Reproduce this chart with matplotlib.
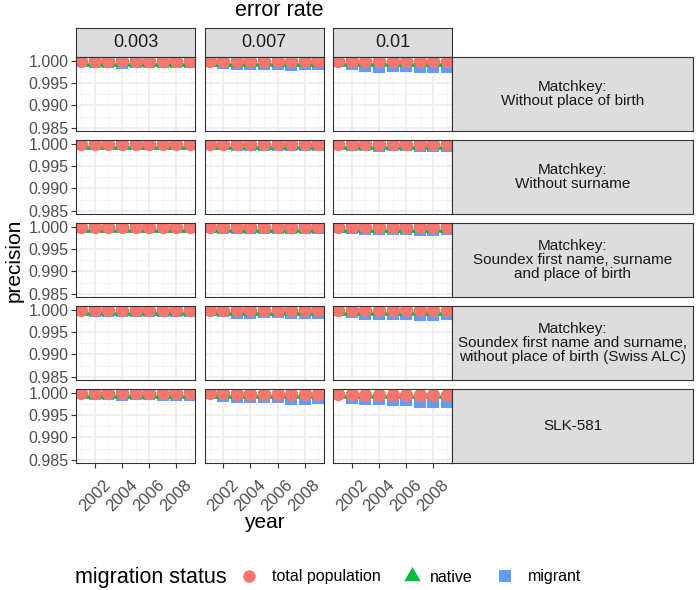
import matplotlib
matplotlib.use('Agg')
import matplotlib.pyplot as plt
from matplotlib.path import Path

plt.rcParams['font.family'] = ['Liberation Sans', 'DejaVu Sans']

years = [2001, 2002, 2003, 2004, 2005, 2006, 2007, 2008, 2009]
error_rates = ['0.003', '0.007', '0.01']
matchkeys = [
    'Matchkey:\nWithout place of birth',
    'Matchkey:\nWithout surname',
    'Matchkey:\nSoundex first name, surname\nand place of birth',
    'Matchkey:\nSoundex first name and surname,\nwithout place of birth (Swiss ALC)',
    'SLK-581',
]
series_names = ['total population', 'native', 'migrant']

# precision per error rate (rows of each list: 0.003, 0.007, 0.01)
total_no_pob = [
    [1.0, 0.99998, 0.99998, 0.99997, 0.99997, 0.99998, 0.99998, 0.99998, 0.99998],
    [1.0, 0.99997, 0.99995, 0.99995, 0.99995, 0.99995, 0.99994, 0.99994, 0.99994],
    [0.99999, 0.99995, 0.99992, 0.99991, 0.99992, 0.99992, 0.9999, 0.9999, 0.9999],
]
native_no_pob = [
    [1.0, 1.0, 1.0, 0.99999, 0.99999, 1.0, 1.0, 1.0, 1.0],
    [1.0, 0.99999, 0.99998, 0.99998, 0.99998, 0.99998, 0.99997, 0.99997, 0.99997],
    [1.0, 0.99998, 0.99996, 0.99995, 0.99996, 0.99996, 0.99994, 0.99994, 0.99994],
]
migrant_no_pob = [
    [0.99998, 0.99978, 0.99971, 0.99955, 0.99962, 0.99978, 0.99971, 0.99978, 0.99978],
    [0.99996, 0.99955, 0.99917, 0.99917, 0.99933, 0.99933, 0.99904, 0.99917, 0.99917],
    [0.99993, 0.99933, 0.99881, 0.99866, 0.99881, 0.99881, 0.99859, 0.99859, 0.99866],
]

total_no_surname = [
    [1.0, 0.99999, 0.99999, 0.99999, 0.99999, 0.99999, 0.99999, 0.99999, 0.99999],
    [1.0, 0.99999, 0.99998, 0.99998, 0.99998, 0.99998, 0.99998, 0.99998, 0.99998],
    [1.0, 0.99998, 0.99996, 0.99996, 0.99996, 0.99996, 0.99995, 0.99995, 0.99995],
]
native_no_surname = [
    [1.0, 1.0, 1.0, 1.0, 1.0, 1.0, 1.0, 1.0, 1.0],
    [1.0, 1.0, 0.99999, 0.99999, 0.99999, 0.99999, 0.99999, 0.99999, 0.99999],
    [1.0, 0.99999, 0.99998, 0.99998, 0.99998, 0.99998, 0.99998, 0.99998, 0.99998],
]
migrant_no_surname = [
    [0.99999, 0.99993, 0.99993, 0.99989, 0.99989, 0.99993, 0.99989, 0.99993, 0.99993],
    [0.99999, 0.99989, 0.99978, 0.99978, 0.99978, 0.99978, 0.99971, 0.99978, 0.99978],
    [0.99998, 0.99978, 0.99962, 0.99955, 0.99962, 0.99962, 0.99948, 0.99948, 0.99955],
]

total_soundex_pob = [
    [1.0, 0.99999, 0.99999, 0.99999, 0.99999, 0.99999, 0.99999, 0.99999, 0.99999],
    [1.0, 0.99998, 0.99997, 0.99997, 0.99997, 0.99997, 0.99997, 0.99997, 0.99997],
    [1.0, 0.99997, 0.99995, 0.99994, 0.99995, 0.99995, 0.99993, 0.99993, 0.99994],
]
native_soundex_pob = [
    [1.0, 1.0, 1.0, 1.0, 1.0, 1.0, 1.0, 1.0, 1.0],
    [1.0, 0.99999, 0.99999, 0.99999, 0.99999, 0.99999, 0.99999, 0.99999, 0.99999],
    [1.0, 0.99999, 0.99998, 0.99997, 0.99998, 0.99998, 0.99997, 0.99997, 0.99997],
]
migrant_soundex_pob = [
    [0.99999, 0.99993, 0.99989, 0.99989, 0.99989, 0.99993, 0.99989, 0.99993, 0.99993],
    [0.99999, 0.99978, 0.99971, 0.99971, 0.99971, 0.99971, 0.99962, 0.99966, 0.99966],
    [0.99998, 0.99971, 0.99948, 0.9994, 0.99948, 0.99948, 0.99933, 0.99933, 0.9994],
]

total_swiss_alc = [
    [1.0, 0.99998, 0.99998, 0.99997, 0.99998, 0.99998, 0.99998, 0.99998, 0.99998],
    [1.0, 0.99996, 0.99993, 0.99993, 0.99994, 0.99994, 0.99992, 0.99992, 0.99993],
    [0.99999, 0.99995, 0.9999, 0.9999, 0.9999, 0.9999, 0.99987, 0.99987, 0.99989],
]
native_swiss_alc = [
    [1.0, 1.0, 1.0, 0.99999, 1.0, 1.0, 1.0, 1.0, 1.0],
    [1.0, 0.99998, 0.99997, 0.99997, 0.99997, 0.99997, 0.99996, 0.99996, 0.99997],
    [1.0, 0.99998, 0.99995, 0.99995, 0.99995, 0.99995, 0.99993, 0.99993, 0.99994],
]
migrant_swiss_alc = [
    [0.99999, 0.99984, 0.99984, 0.99971, 0.99978, 0.99984, 0.99984, 0.99978, 0.99984],
    [0.99998, 0.99962, 0.99933, 0.99933, 0.9994, 0.9994, 0.99917, 0.99926, 0.99933],
    [0.99998, 0.99955, 0.9991, 0.9991, 0.9991, 0.9991, 0.99873, 0.99873, 0.99895],
]

total_slk = [
    [0.99998, 0.99995, 0.99994, 0.99993, 0.99993, 0.99993, 0.99992, 0.99992, 0.99992],
    [0.99996, 0.99988, 0.99982, 0.9998, 0.9998, 0.99978, 0.99973, 0.99972, 0.99972],
    [0.99978, 0.99968, 0.9996, 0.9996, 0.9995, 0.9995, 0.9994, 0.9994, 0.9994],
]
native_slk = [
    [1.0, 0.99999, 0.99999, 0.99998, 0.99998, 0.99998, 0.99998, 0.99998, 0.99998],
    [1.0, 0.99997, 0.99995, 0.99994, 0.99994, 0.99993, 0.99992, 0.99991, 0.99991],
    [1.0, 0.99998, 0.99995, 0.99995, 0.99993, 0.99993, 0.9999, 0.9999, 0.9999],
]
migrant_slk = [
    [0.99993, 0.99971, 0.99962, 0.99955, 0.99962, 0.99962, 0.99955, 0.99955, 0.99955],
    [0.99989, 0.99933, 0.99899, 0.99895, 0.99899, 0.99899, 0.99866, 0.99866, 0.99873],
    [0.99985, 0.99888, 0.9985, 0.9985, 0.99836, 0.99836, 0.998, 0.99792, 0.998],
]

rows = [
    (total_no_pob, native_no_pob, migrant_no_pob),
    (total_no_surname, native_no_surname, migrant_no_surname),
    (total_soundex_pob, native_soundex_pob, migrant_soundex_pob),
    (total_swiss_alc, native_swiss_alc, migrant_swiss_alc),
    (total_slk, native_slk, migrant_slk),
]

# R style filled triangle: apex well above the centre, base a bit below
tri = Path([(0, 1.555), (1.347, -0.778), (-1.347, -0.778), (0, 1.555)],
           [Path.MOVETO, Path.LINETO, Path.LINETO, Path.CLOSEPOLY])

colors = ['#F8766D', '#00BA38', '#619CFF']
markers = ['o', tri, 's']
msizes = [9.6, 14.6, 8.4]
zorders = [4, 3, 2]

W, H = 698, 590
fig = plt.figure(figsize=(W / 100, H / 100), dpi=100)


def rect(x0, y0, x1, y1):
    return [x0 / W, 1 - y1 / H, (x1 - x0) / W, (y1 - y0) / H]


def strip(x0, y0, x1, y1, label, size):
    sax = fig.add_axes(rect(x0, y0, x1, y1))
    sax.set_facecolor('#DDDDDD')
    sax.set_xticks([])
    sax.set_yticks([])
    for sp in sax.spines.values():
        sp.set_color('#333333')
        sp.set_linewidth(0.8)
    sax.text(0.5, 0.5, label, ha='center', va='center', fontsize=size,
             color='#1A1A1A', transform=sax.transAxes, linespacing=1.0)


col_x = [(76, 195), (204.5, 323.5), (333, 452)]
row_top = [57 + 83 * i for i in range(5)]
panel_h = 74

for j, (x0, x1) in enumerate(col_x):
    strip(x0, 28, x1, 57, error_rates[j], 13)

for i, series in enumerate(rows):
    y0 = row_top[i]
    for j, (x0, x1) in enumerate(col_x):
        ax = fig.add_axes(rect(x0, y0, x1, y0 + panel_h))
        ax.set_xlim(2000.6, 2009.4)
        ax.set_ylim(0.98425, 1.00085)
        ax.set_xticks([2002, 2004, 2006, 2008])
        ax.set_xticks([2001, 2003, 2005, 2007, 2009], minor=True)
        ax.set_yticks([0.985, 0.990, 0.995, 1.000])
        ax.set_yticks([0.9875, 0.9925, 0.9975], minor=True)
        ax.grid(which='major', color='#EBEBEB', linewidth=1.1, zorder=0)
        ax.grid(which='minor', color='#F2F2F2', linewidth=0.6, zorder=0)
        ax.set_axisbelow(True)
        for k in range(3):
            ax.plot(years, series[k][j], linestyle='none', marker=markers[k],
                    markersize=msizes[k], color=colors[k], markeredgewidth=0,
                    zorder=zorders[k])
        for sp in ax.spines.values():
            sp.set_color('#333333')
            sp.set_linewidth(0.8)
            sp.set_zorder(6)
        ax.tick_params(which='minor', length=0)
        ax.tick_params(which='major', length=3.5, width=0.8, color='#333333',
                       labelsize=11.5, labelcolor='#4D4D4D', pad=2)
        if j == 0:
            ax.set_yticklabels(['0.985', '0.990', '0.995', '1.000'])
        else:
            ax.tick_params(axis='y', length=0, labelleft=False)
        if i == len(rows) - 1:
            ax.set_xticklabels(['2002', '2004', '2006', '2008'], rotation=45,
                               ha='center', va='top', fontsize=12)
            ax.tick_params(axis='x', pad=7)
        else:
            ax.tick_params(axis='x', length=0, labelbottom=False)
    strip(452, y0, 693, y0 + panel_h, matchkeys[i], 11)

fig.text(279 / W, 1 - 11 / H, 'error rate', ha='center', va='center', fontsize=15.5)
fig.text(264 / W, 1 - 523 / H, 'year', ha='center', va='center', fontsize=15)
fig.text(14 / W, 1 - 260 / H, 'precision', ha='center', va='center',
         rotation=90, fontsize=15)

# legend along the bottom, drawn in pixel coordinates
lax = fig.add_axes([0, 0, 1, 1], zorder=-1)
lax.set_xlim(0, W)
lax.set_ylim(H, 0)
lax.axis('off')
lax.text(75, 577, 'migration status', ha='left', va='center', fontsize=15.5)
key_x = [249, 412, 505]
label_x = [272, 430, 528]
key_sizes = [9.0, 13.6, 8.6]
for k in range(3):
    lax.plot(key_x[k], 576, linestyle='none', marker=markers[k],
             markersize=key_sizes[k], color=colors[k], markeredgewidth=0)
    lax.text(label_x[k], 577, series_names[k], ha='left', va='center',
             fontsize=11.5)

fig.savefig('out.png', dpi=100)
